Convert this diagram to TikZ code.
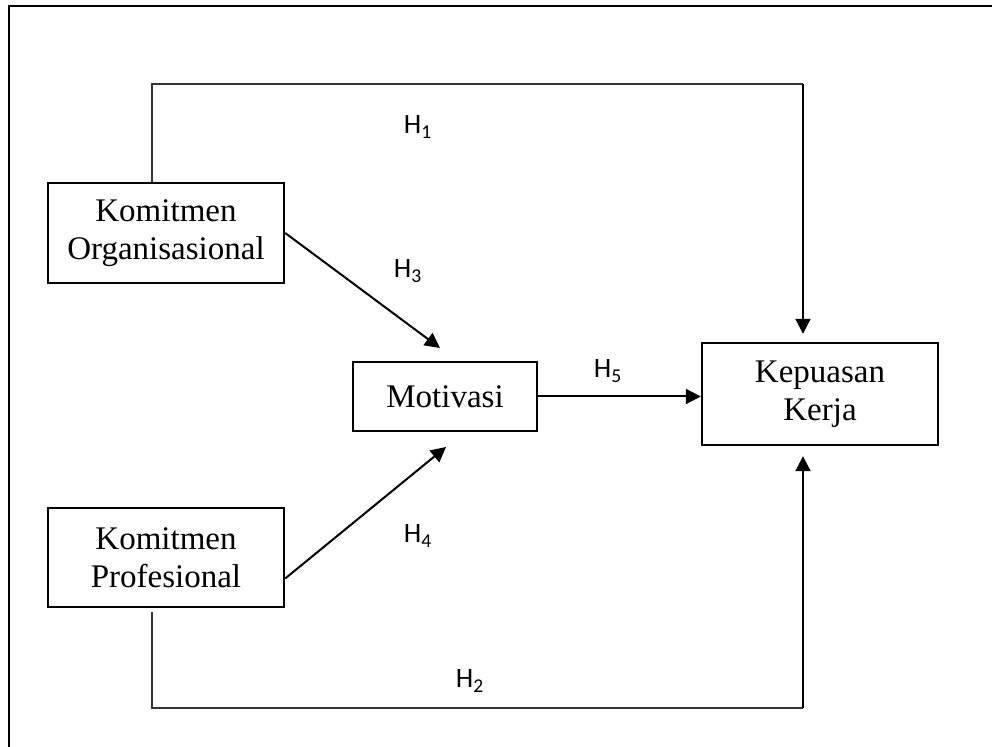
\documentclass[tikz,border=0pt]{standalone}
\usepackage{fontspec}
\setmainfont{Liberation Serif}
\newfontfamily\labelfont{Carlito}
\usetikzlibrary{arrows.meta,positioning}

\tikzset{
  varbox/.style={draw,line width=1.2pt,align=center,inner sep=0pt,
    font=\fontsize{16.5}{19}\selectfont},
  hlabel/.style={font=\labelfont\fontsize{14}{16}\selectfont},
  arr/.style={line width=1pt,-{Triangle[length=7.5pt,width=7.5pt]}},
  link/.style={line width=0.6pt,draw=black!80},
}

\begin{document}
\begin{tikzpicture}[x=0.5pt,y=-0.5pt]
\useasboundingbox (0,0) rectangle (992,747);
\clip (0,0) rectangle (992,747);
\draw[line width=1.2pt] (9,6) rectangle (1010,770);
% variables
\node[varbox,minimum width=118pt,minimum height=50pt] (org) at (166,233) {Komitmen\\Organisasional};
\node[varbox,minimum width=118pt,minimum height=49.5pt] (pro) at (166,557.5) {Komitmen\\Profesional};
\node[varbox,minimum width=92pt,minimum height=34.5pt] (mot) at (445,396.5) {Motivasi};
\node[varbox,minimum width=118pt,minimum height=51pt] (kep) at (820,394) {Kepuasan\\Kerja};
% corners of the long paths
\coordinate (c1) at (152,84);
\coordinate (c2) at (803,84);
\coordinate (c3) at (152,708);
\coordinate (c4) at (803,708);
\coordinate (t3) at (440,348);
\coordinate (t4) at (446,447);
% H1, H2
\draw[link] (org.north -| c1) -- (c1) -- (c2);
\draw[arr,shorten >=4pt] (c2) -- (kep.north -| c2);
\draw[link,shorten <=2pt] (pro.south -| c3) -- (c3) -- (c4);
\draw[arr,shorten >=5pt] (c4) -- (kep.south -| c4);
% H3, H4, H5
\draw[arr] (org.east) -- (t3);
\draw[arr] ([yshift=-10.5pt]pro.east) -- (t4);
\draw[arr] (mot.east) -- (mot.east -| kep.west);
% labels
\node[hlabel] (h1) at (418,127) {H\textsubscript{1}};
\node[hlabel] (h3) at (408,271) {H\textsubscript{3}};
\node[hlabel] (h5) at (608,371) {H\textsubscript{5}};
\node[hlabel] (h4) at (418,536) {H\textsubscript{4}};
\node[hlabel] (h2) at (470,681) {H\textsubscript{2}};
\end{tikzpicture}
\end{document}
